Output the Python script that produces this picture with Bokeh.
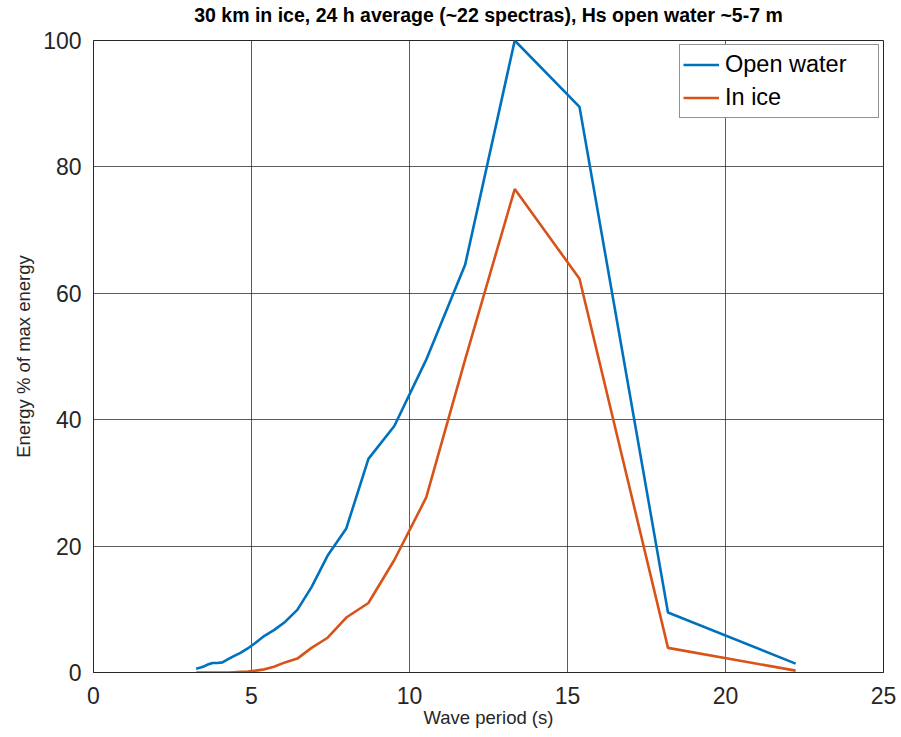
from bokeh.plotting import figure
from bokeh.models import FixedTicker, Legend, LegendItem, Title
from bokeh.embed import file_html
from bokeh.resources import INLINE

# Wave period (s)
period = [3.25, 3.39, 3.51, 3.64, 3.77, 3.92, 4.08, 4.26, 4.44, 4.65, 4.88, 5.13,
          5.41, 5.71, 6.06, 6.45, 6.90, 7.41, 8.00, 8.70, 9.52, 10.53, 11.76,
          13.33, 15.38, 18.18, 22.22]
# Energy % of max energy
open_water = [0.6, 0.8, 1.0, 1.3, 1.5, 1.5, 1.6, 2.1, 2.6, 3.1, 3.8, 4.7,
              5.8, 6.7, 8.0, 9.9, 13.5, 18.5, 22.8, 33.8, 39.0, 49.5, 64.5,
              100.0, 89.5, 9.5, 1.4]
in_ice = [0.0, 0.0, 0.0, 0.0, 0.0, 0.0, 0.0, 0.0, 0.05, 0.1, 0.15, 0.3,
          0.5, 0.9, 1.6, 2.2, 3.9, 5.5, 8.7, 11.0, 17.8, 27.7, 49.5,
          76.5, 62.3, 3.9, 0.3]

x_ticks = [0, 5, 10, 15, 20, 25]
y_ticks = [0, 20, 40, 60, 80, 100]
series_names = ["Open water", "In ice"]
series_colors = ["#0072BD", "#D95319"]
title_text = "30 km in ice, 24 h average (~22 spectras), Hs open water ~5-7 m"

FONT = "Liberation Sans"
AXC = "#262626"

p = figure(width=900, height=736, x_range=(0, 25), y_range=(0, 100),
           output_backend="svg", toolbar_location=None, title=None)
p.min_border_left = 93
p.min_border_right = 17
p.min_border_top = 40
p.min_border_bottom = 64

# spacer panel between frame and title (closest to the frame)
spacer = Title(text=" ", text_font_size="2px", standoff=11)
p.add_layout(spacer, "above")
main_title = Title(text=title_text, align="center", text_font=FONT,
                   text_font_size="19.5px", text_font_style="bold",
                   text_color="#000000", standoff=0)
p.add_layout(main_title, "above")

p.outline_line_color = AXC
p.outline_line_width = 1
p.outline_line_alpha = 1.0

for ax in (p.xaxis[0], p.yaxis[0]):
    ax.major_label_text_font = FONT
    ax.major_label_text_font_size = "23px"
    ax.major_label_text_color = AXC
    ax.axis_label_text_font = FONT
    ax.axis_label_text_font_size = "18.5px"
    ax.axis_label_text_font_style = "normal"
    ax.axis_label_text_color = AXC
    ax.axis_line_color = AXC
    ax.major_tick_in = 0
    ax.major_tick_out = 0
    ax.minor_tick_in = 0
    ax.minor_tick_out = 0

p.xaxis.ticker = FixedTicker(ticks=x_ticks)
p.yaxis.ticker = FixedTicker(ticks=y_ticks)
p.xaxis.axis_label = "Wave period (s)"
p.yaxis.axis_label = "Energy % of max energy"
p.xaxis.major_label_standoff = 14
p.xaxis.axis_label_standoff = 0
p.yaxis.major_label_standoff = 12
p.yaxis.axis_label_standoff = 6

p.grid.grid_line_color = AXC
p.grid.grid_line_alpha = 0.75
p.grid.grid_line_width = 1

r1 = p.line(period, open_water, line_color=series_colors[0], line_width=2.6)
r2 = p.line(period, in_ice, line_color=series_colors[1], line_width=2.6)

legend = Legend(items=[LegendItem(label=series_names[0], renderers=[r1]),
                       LegendItem(label=series_names[1], renderers=[r2])],
                location="top_right")
legend.margin = 4
legend.padding = 3
legend.spacing = 0
legend.label_height = 33
legend.glyph_height = 33
legend.glyph_width = 36
legend.label_standoff = 6
legend.label_width = 150
legend.label_text_font = FONT
legend.label_text_font_size = "23.5px"
legend.label_text_color = "#000000"
legend.border_line_color = AXC
legend.border_line_width = 1
legend.background_fill_color = "white"
legend.background_fill_alpha = 1.0
p.add_layout(legend)

open("out.html", "w").write(file_html(p, INLINE))
